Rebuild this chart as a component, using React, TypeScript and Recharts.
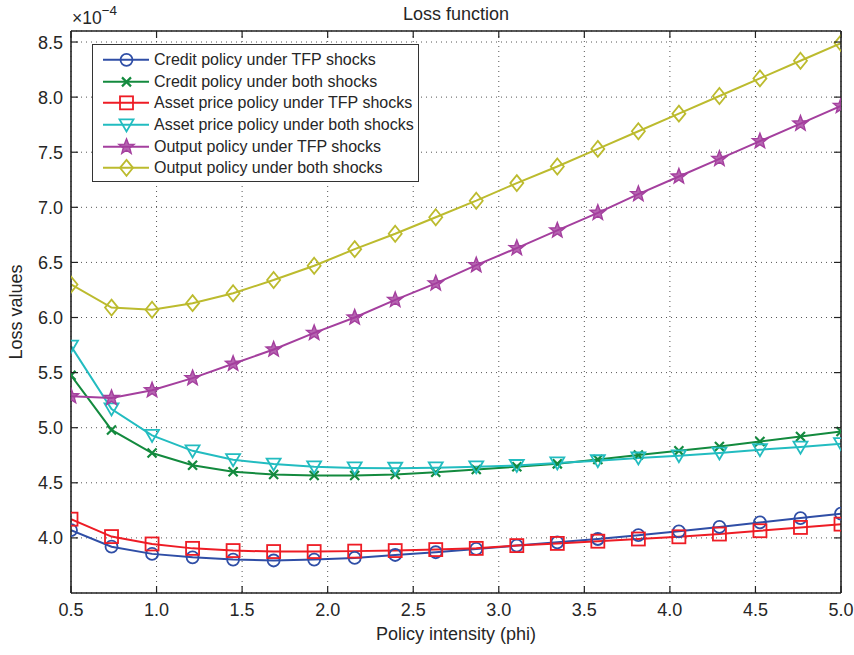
import React from 'react';
import { LineChart, Line, XAxis, YAxis, CartesianGrid, Legend } from 'recharts';

const phi = [0.5, 0.7368, 0.9737, 1.2105, 1.4474, 1.6842, 1.9211, 2.1579, 2.3947, 2.6316, 2.8684, 3.1053, 3.3421, 3.5789, 3.8158, 4.0526, 4.2895, 4.5263, 4.7632, 5.0];

const creditTFP = [4.07, 3.92, 3.855, 3.824, 3.803, 3.795, 3.803, 3.818, 3.845, 3.87, 3.9, 3.93, 3.96, 3.99, 4.025, 4.06, 4.1, 4.14, 4.18, 4.22];
const creditBoth = [5.475, 4.98, 4.77, 4.66, 4.6, 4.575, 4.566, 4.566, 4.575, 4.596, 4.62, 4.646, 4.672, 4.712, 4.752, 4.79, 4.83, 4.875, 4.92, 4.966];
const assetTFP = [4.17, 4.012, 3.945, 3.905, 3.885, 3.876, 3.876, 3.88, 3.885, 3.894, 3.905, 3.93, 3.95, 3.97, 3.99, 4.01, 4.035, 4.065, 4.095, 4.125];
const assetBoth = [5.74, 5.17, 4.93, 4.79, 4.71, 4.67, 4.645, 4.635, 4.632, 4.636, 4.645, 4.657, 4.68, 4.7, 4.725, 4.745, 4.77, 4.8, 4.824, 4.855];
const outputTFP = [5.285, 5.27, 5.34, 5.45, 5.58, 5.71, 5.86, 6.0, 6.16, 6.31, 6.475, 6.63, 6.79, 6.95, 7.12, 7.28, 7.44, 7.6, 7.76, 7.92];
const outputBoth = [6.3, 6.09, 6.07, 6.13, 6.22, 6.34, 6.47, 6.62, 6.76, 6.91, 7.06, 7.22, 7.37, 7.53, 7.69, 7.85, 8.01, 8.17, 8.33, 8.49];

const xTicks = [0.5, 1.0, 1.5, 2.0, 2.5, 3.0, 3.5, 4.0, 4.5, 5.0];
const yTicks = [4.0, 4.5, 5.0, 5.5, 6.0, 6.5, 7.0, 7.5, 8.0, 8.5];

const seriesDefs = [
  { key: 'creditTFP', name: 'Credit policy under TFP shocks', values: creditTFP, color: '#2f4ea6', marker: 'circle' },
  { key: 'creditBoth', name: 'Credit policy under both shocks', values: creditBoth, color: '#138a3e', marker: 'x' },
  { key: 'assetTFP', name: 'Asset price policy under TFP shocks', values: assetTFP, color: '#ee1c25', marker: 'square' },
  { key: 'assetBoth', name: 'Asset price policy under both shocks', values: assetBoth, color: '#22bcc0', marker: 'triangle' },
  { key: 'outputTFP', name: 'Output policy under TFP shocks', values: outputTFP, color: '#a43f9e', marker: 'star' },
  { key: 'outputBoth', name: 'Output policy under both shocks', values: outputBoth, color: '#bcbb2e', marker: 'diamond' },
];

const data = phi.map((p, i) => {
  const row: any = { phi: p };
  seriesDefs.forEach((s) => { row[s.key] = s.values[i]; });
  return row;
});

const FONT = '"Liberation Sans", Arial, Helvetica, sans-serif';
const AXIS = '#222';
const TEXT = '#262626';
const TICK_LEN = 7;

function Marker({ shape, cx, cy, color }: any) {
  const sw = 1.8;
  switch (shape) {
    case 'circle':
      return <circle cx={cx} cy={cy} r={6} fill="none" stroke={color} strokeWidth={sw} />;
    case 'x':
      return <path d={`M${cx - 4.5},${cy - 4.5}L${cx + 4.5},${cy + 4.5}M${cx - 4.5},${cy + 4.5}L${cx + 4.5},${cy - 4.5}`} fill="none" stroke={color} strokeWidth={2.2} />;
    case 'square':
      return <rect x={cx - 6.5} y={cy - 6.5} width={13} height={13} fill="none" stroke={color} strokeWidth={sw} />;
    case 'triangle':
      return <path d={`M${cx - 7},${cy - 5.5}L${cx + 7},${cy - 5.5}L${cx},${cy + 6.5}Z`} fill="none" stroke={color} strokeWidth={sw} />;
    case 'star': {
      const pts: string[] = [];
      for (let k = 0; k < 10; k++) {
        const a = (-90 + k * 36) * Math.PI / 180;
        const r = k % 2 === 0 ? 8 : 3.4;
        pts.push(`${cx + r * Math.cos(a)},${cy + r * Math.sin(a)}`);
      }
      return <polygon points={pts.join(' ')} fill={color} fillOpacity={0.8} stroke={color} strokeWidth={1.4} />;
    }
    case 'diamond':
      return <path d={`M${cx},${cy - 8}L${cx + 6.5},${cy}L${cx},${cy + 8}L${cx - 6.5},${cy}Z`} fill="none" stroke={color} strokeWidth={sw} />;
    default:
      return null;
  }
}

const BottomTick = (props: any) => {
  const { x, y, payload } = props;
  return (
    <g>
      <line x1={x} y1={y} x2={x} y2={y - TICK_LEN} stroke={AXIS} strokeWidth={1.2} />
      <text x={x} y={y + 23} textAnchor="middle" fontSize={18} fill={TEXT} fontFamily={FONT}>{Number(payload.value).toFixed(1)}</text>
    </g>
  );
};

const LeftTick = (props: any) => {
  const { x, y, payload } = props;
  return (
    <g>
      <line x1={x} y1={y} x2={x + TICK_LEN} y2={y} stroke={AXIS} strokeWidth={1.2} />
      <text x={x - 8} y={y + 6.5} textAnchor="end" fontSize={18} fill={TEXT} fontFamily={FONT}>{Number(payload.value).toFixed(1)}</text>
    </g>
  );
};

const TopTick = (props: any) => {
  const { x, y } = props;
  return <line x1={x} y1={y} x2={x} y2={y + TICK_LEN} stroke={AXIS} strokeWidth={1.2} />;
};

const RightTick = (props: any) => {
  const { x, y } = props;
  return <line x1={x} y1={y} x2={x - TICK_LEN} y2={y} stroke={AXIS} strokeWidth={1.2} />;
};

const LegendBox = () => (
  <div style={{ border: '1.5px solid #333', background: '#fff', width: 327, height: 138, boxSizing: 'border-box', paddingTop: 4, fontFamily: FONT }}>
    {seriesDefs.map((s) => (
      <div key={s.key} style={{ display: 'flex', alignItems: 'center', height: 21.7 }}>
        <svg width={61} height={21.7} style={{ display: 'block', flex: 'none' }}>
          <line x1={10} y1={10.85} x2={56} y2={10.85} stroke={s.color} strokeWidth={2} />
          <Marker shape={s.marker} cx={33.5} cy={10.85} color={s.color} />
        </svg>
        <span style={{ fontSize: 16, color: TEXT, whiteSpace: 'nowrap' }}>{s.name}</span>
      </div>
    ))}
  </div>
);

export default function App() {
  return (
    <div style={{ position: 'absolute', left: 0, top: 0, width: 854, height: 655, background: '#fff', fontFamily: FONT }}>
      <LineChart width={854} height={655} data={data} margin={{ top: 30, right: 12, bottom: 32, left: 11 }}>
        <CartesianGrid stroke="#555" strokeDasharray="1 4" strokeWidth={1} />
        <XAxis dataKey="phi" type="number" domain={[0.5, 5]} ticks={xTicks} allowDataOverflow height={30}
          tickSize={0} tickMargin={0} tick={BottomTick} axisLine={{ stroke: AXIS, strokeWidth: 1.6 }} tickLine={false} />
        <XAxis xAxisId="top" orientation="top" dataKey="phi" type="number" domain={[0.5, 5]} ticks={xTicks} allowDataOverflow height={1}
          tickSize={0} tickMargin={0} tick={TopTick} axisLine={{ stroke: AXIS, strokeWidth: 1.6 }} tickLine={false} />
        <YAxis type="number" domain={[3.5, 8.6]} ticks={yTicks} allowDataOverflow width={60}
          tickSize={0} tickMargin={0} tick={LeftTick} axisLine={{ stroke: AXIS, strokeWidth: 1.6 }} tickLine={false} />
        <YAxis yAxisId="r" orientation="right" type="number" domain={[3.5, 8.6]} ticks={yTicks} allowDataOverflow width={1}
          tickSize={0} tickMargin={0} tick={RightTick} axisLine={{ stroke: AXIS, strokeWidth: 1.6 }} tickLine={false} />
        <Line xAxisId="top" yAxisId="r" dataKey="outputBoth" stroke="none" dot={false} activeDot={false}
          legendType="none" isAnimationActive={false} />
        {seriesDefs.map((s) => (
          <Line key={s.key} type="linear" dataKey={s.key} name={s.name} stroke={s.color} strokeWidth={2}
            isAnimationActive={false}
            dot={(p: any) => <Marker key={`${s.key}-${p.index}`} shape={s.marker} cx={p.cx} cy={p.cy} color={s.color} />}
            activeDot={false} />
        ))}
        <Legend content={() => <LegendBox />} layout="vertical" verticalAlign="middle" align="center"
          wrapperStyle={{ position: 'absolute', left: 92, top: 44, width: 327, height: 138 }} />
        <text x={456} y={20} textAnchor="middle" fontSize={18} fill={TEXT} fontFamily={FONT}>Loss function</text>
        <text x={72} y={24} fontSize={17.5} fill={TEXT} fontFamily={FONT}>×10<tspan fontSize={13.5} dy={-9}>−4</tspan></text>
        <text x={456} y={640} textAnchor="middle" fontSize={18} fill={TEXT} fontFamily={FONT}>Policy intensity (phi)</text>
        <text x={22} y={312} textAnchor="middle" fontSize={18} fill={TEXT} fontFamily={FONT} transform="rotate(-90, 22, 312)">Loss values</text>
      </LineChart>
    </div>
  );
}
